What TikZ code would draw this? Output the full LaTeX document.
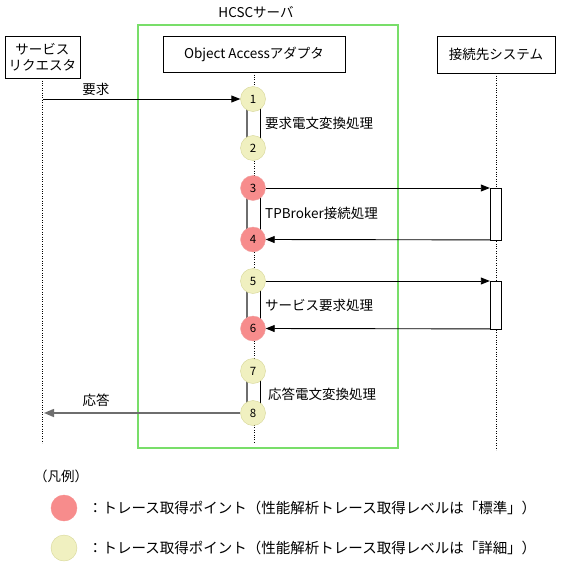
\documentclass[tikz,border=0pt]{standalone}
\usepackage{fontspec}
\setmainfont{Noto Sans CJK JP}
\usetikzlibrary{positioning}
\usetikzlibrary{arrows.meta}
\usetikzlibrary{calc,backgrounds}
\definecolor{hcscgreen}{RGB}{120,222,105}
\definecolor{stdfill}{RGB}{247,140,140}
\definecolor{stddraw}{RGB}{240,165,165}
\definecolor{detfill}{RGB}{240,240,192}
\definecolor{detdraw}{RGB}{214,214,150}
\definecolor{barline}{RGB}{110,110,110}
\tikzset{
   actor/.style = {%
    shape=rectangle,
    draw=black,
    fill=white,
    align=center,
    inner sep=0pt,
    font=\fontsize{13.5}{16}\selectfont},
   lifeline/.style = {%
    draw=black,
    dotted},
   stdpt/.style = {%
    circle,
    minimum size=25pt,
    inner sep=0pt,
    draw=stddraw,
    fill=stdfill,
    font=\fontsize{11.5}{11.5}\selectfont},
   detpt/.style = {%
    stdpt,
    draw=detdraw,
    fill=detfill},
   actbox/.style = {%
    shape=rectangle,
    draw=black,
    fill=white,
    minimum width=11pt,
    inner sep=0pt},
   msg/.style = {%
    draw=black,
    line width=0.9pt,
    -{Triangle[length=9pt,width=7pt]}},
   lbl/.style = {%
    anchor=west,
    inner sep=0pt,
    font=\fontsize{13.5}{16}\selectfont},
}
\begin{document}
\begin{tikzpicture}[x=1pt,y=-1pt]
    \useasboundingbox (0,0) rectangle (563,565);
    % HCSC server frame
    \draw[hcscgreen, line width=2pt] (138,25) rectangle (398,448);
    \node[lbl, anchor=center] (hcsc) at (256,12) {HCSCサーバ};

    % lifelines
    \node[actor, minimum width=75pt, minimum height=42pt] (req) at (42.5,57) {サービス\\リクエスタ};
    \node[actor, minimum width=182pt, minimum height=36pt] (oaa) at (254,54) {Object Accessアダプタ};
    \node[actor, minimum width=118pt, minimum height=37pt] (sys) at (496,54.5) {接続先システム};
    \coordinate (reqend) at (42.5,443);
    \coordinate (oaaend) at (254,443);
    \coordinate (sysend) at (496,450);
    \begin{scope}[on background layer]
        \draw[lifeline] (req.south) -- (reqend);
        \draw[lifeline] (oaa.south) -- (oaaend);
        \draw[lifeline] (sys.south) -- (sysend);
    \end{scope}

    % trace points
    \node[detpt] (p1) at (253,99)  {1};
    \node[detpt] (p2) at (253,148) {2};
    \node[stdpt] (p3) at (253,188) {3};
    \node[stdpt] (p4) at (253,239.5) {4};
    \node[detpt] (p5) at (253,281) {5};
    \node[stdpt] (p6) at (253,328.5) {6};
    \node[detpt] (p7) at (253,371) {7};
    \node[detpt] (p8) at (253,413) {8};

    \begin{scope}[on background layer]
        \foreach \a/\b in {p1/p2, p3/p4, p5/p6, p7/p8} {
            \fill[white] ([xshift=-6pt]\a.center) rectangle ([xshift=7pt]\b.center);
            \draw[barline, line width=1.8pt] ([xshift=-6pt]\a.center) -- ([xshift=-6pt]\b.center);
            \draw[black] ([xshift=7pt]\a.center) -- ([xshift=7pt]\b.center);
        }
    \end{scope}

    \node[lbl] (conv1) at (265,123) {要求電文変換処理};
    \node[lbl] (conn)  at (265,213) {TPBroker接続処理};
    \node[lbl] (svc)   at (265,305) {サービス要求処理};
    \node[lbl] (conv2) at (268,394) {応答電文変換処理};

    % activations on target system
    \node[actbox, minimum height=51.5pt, anchor=north] (act1) at (495.5,188) {};
    \node[actbox, minimum height=47.5pt, anchor=north] (act2) at (495.5,281) {};

    % messages
    \coordinate (reqin) at (42.5,99);
    \coordinate (resout) at (44,413);
    \draw[msg] (reqin) -- (p1.west) node[lbl, anchor=center, pos=0.27, above=3pt] (reqlbl) {要求};
    \draw[msg] (p3.east) -- (act1.north west);
    \draw[msg] (act1.south west) -- (p4.east);
    \draw[msg] (p5.east) -- (act2.north west);
    \draw[msg] (act2.south west) -- (p6.east);
    \draw[msg, draw=barline, line width=1.5pt, -{Triangle[length=10pt,width=8pt]}] (p8.west) -- (resout);
    \node[lbl, anchor=center] (reslbl) at (96,400) {応答};

    % legend
    \node[lbl] (legend) at (34,476) {（凡例）};
    \node[stdpt, draw=stdfill, minimum size=26pt] (lstd) at (64,508) {};
    \node[detpt, minimum size=26pt] (ldet) at (64,548) {};
    \node[lbl, font=\fontsize{14.5}{16}\selectfont] (lstdtxt) at (88,508) {：トレース取得ポイント（性能解析トレース取得レベルは「標準」）};
    \node[lbl, font=\fontsize{14.5}{16}\selectfont] (ldettxt) at (88,548) {：トレース取得ポイント（性能解析トレース取得レベルは「詳細」）};
\end{tikzpicture}
\end{document}
